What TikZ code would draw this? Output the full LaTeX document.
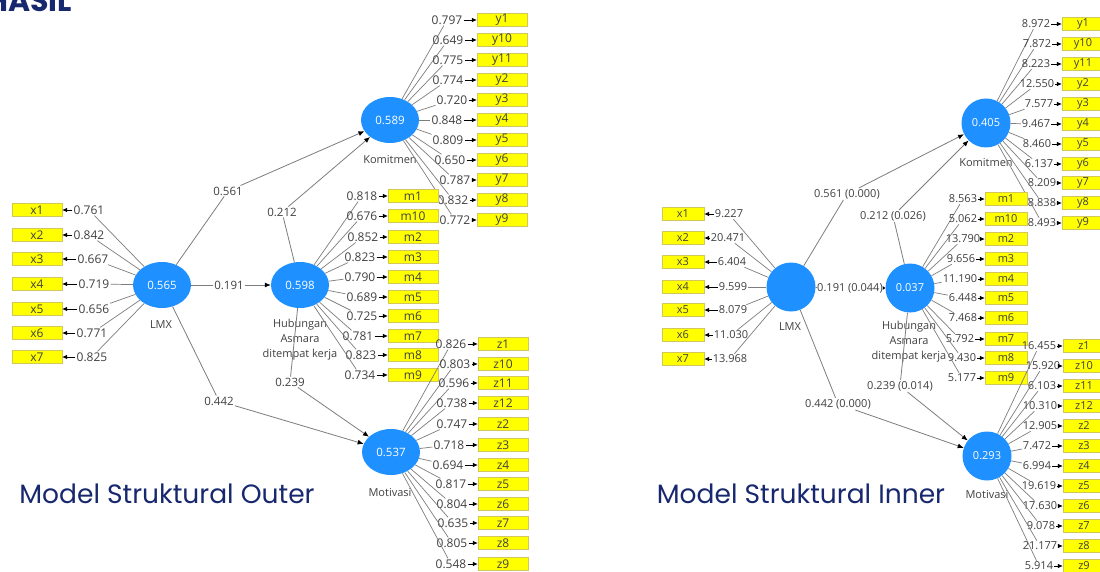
\documentclass[tikz,border=0pt]{standalone}
\usepackage{fontspec}
\setmainfont{Open Sans}
\newfontfamily\titlefont{Poppins}
\usetikzlibrary{arrows.meta,shapes.geometric}
\definecolor{lvblue}{RGB}{30,144,255}
\definecolor{indyellow}{RGB}{255,255,0}
\definecolor{indborder}{RGB}{210,200,90}
\definecolor{navy}{RGB}{24,40,110}
\definecolor{txtgray}{RGB}{64,64,64}
\definecolor{linegray}{RGB}{125,125,125}

\begin{document}
\begin{tikzpicture}
  [x=1pt,y=-1pt,
   lvo/.style={ellipse,fill=lvblue,minimum width=58pt,minimum height=46pt,inner sep=0pt,text=white,font=\fontsize{11.5}{13}\selectfont},
   lvi/.style={circle,fill=lvblue,minimum size=49pt,inner sep=0pt,text=white,font=\fontsize{11}{13}\selectfont},
   indbox/.style={draw=indborder,fill=indyellow,minimum height=13pt,inner sep=0pt,text=txtgray},
   indo/.style={indbox,minimum width=50pt,font=\fontsize{12}{13}\selectfont},
   indi/.style={indbox,minimum width=42pt,font=\fontsize{11}{13}\selectfont},
   lblo/.style={inner sep=1pt,text=txtgray,font=\fontsize{12}{13}\selectfont},
   lbli/.style={inner sep=1pt,text=txtgray,font=\fontsize{11}{13}\selectfont},
   lvname/.style={inner sep=0pt,text=txtgray,align=center,font=\fontsize{11}{15}\selectfont},
   load/.style={draw=linegray,line width=0.7pt},
   toind/.style={-{Latex[length=5pt,width=4.5pt]},line width=0.7pt,black},
   pth/.style={draw=linegray,line width=0.8pt,-{Latex[length=6pt,width=5pt,black]}},
   coef/.style={inner sep=1pt,text=txtgray}]
  \useasboundingbox (0,0) rectangle (1100,572);
  \clip (0,0) rectangle (1100,572);
  \fill[white] (0,0) rectangle (1100,572);

  \node[font=\titlefont\bfseries\fontsize{30}{34}\selectfont,text=navy,anchor=base east,inner sep=0pt] (hasil) at (72,12) {HASIL};
  \node[font=\titlefont\fontsize{26.5}{30}\selectfont,text=navy] (ttlo) at (167,494) {Model Struktural Outer};
  \node[font=\titlefont\fontsize{26.5}{30}\selectfont,text=navy] (ttli) at (801,494) {Model Struktural Inner};

  % outer model
  \node[lvo] (oLMX) at (162,285) {0.565};
  \node[lvo] (oHub) at (300,285) {0.598};
  \node[lvo] (oKom) at (390,120) {0.589};
  \node[lvo] (oMot) at (391,452) {0.537};
  \node[lvname] (onLMX) at (161,325) {LMX};
  \node[lvname] (onHub) at (300,340) {Hubungan\\Asmara\\ditempat kerja};
  \node[lvname] (onKom) at (390,160) {Komitmen};
  \node[lvname] (onMot) at (390,493) {Motivasi};

  \node[coef,font=\fontsize{11.5}{13}\selectfont] (oc561) at (228,191) {0.561};
  \node[coef,font=\fontsize{11.5}{13}\selectfont] (oc191) at (229,285) {0.191};
  \node[coef,font=\fontsize{11.5}{13}\selectfont] (oc442) at (219,401) {0.442};
  \node[coef,font=\fontsize{11.5}{13}\selectfont] (oc212) at (282,212) {0.212};
  \node[coef,font=\fontsize{11.5}{13}\selectfont] (oc239) at (290,382) {0.239};
  \draw[pth] (oLMX) -- (oc561) -- (oKom);
  \draw[pth] (oLMX) -- (oc191) -- (oHub);
  \draw[pth] (oLMX) -- (oc442) -- (oMot);
  \draw[pth] (oHub) -- (oc212) -- (oKom);
  \draw[pth] (oHub) -- (oc239) -- (oMot);

  \foreach \mv/\lx/\yy/\val in {x1/89/210/0.761, x2/89/235/0.842, x3/93/259/0.667, x4/94/284/0.719,
      x5/94/309/0.656, x6/92/333/0.771, x7/92/357/0.825} {
    \node[indo] (o\mv) at (37,\yy) {\mv};
    \node[lblo] (ol\mv) at (\lx,\yy) {\val};
    \draw[load] (oLMX) -- (ol\mv);
    \draw[toind] (ol\mv) -- (o\mv);
  }
  \foreach \mv/\lx/\yy/\val in {y1/447/20/0.797, y10/448/40/0.649, y11/448/60/0.775, y2/448/80/0.774,
      y3/452/100/0.720, y4/447/120/0.848, y5/448/140/0.809, y6/450/160/0.650, y7/455/180/0.787,
      y8/453/200/0.832, y9/455/220/0.772} {
    \node[indo] (o\mv) at (502,\yy) {\mv};
    \node[lblo] (ol\mv) at (\lx,\yy) {\val};
    \draw[load] (oKom) -- (ol\mv);
    \draw[toind] (ol\mv) -- (o\mv);
  }
  \foreach \mv/\lx/\yy/\val in {m1/362/196/0.818, m10/362/216/0.676, m2/363/237/0.852, m3/360/257/0.823,
      m4/360/277/0.790, m5/362/297/0.689, m6/362/316/0.725, m7/358/336/0.781, m8/361/355/0.823,
      m9/360/375/0.734} {
    \node[indo] (o\mv) at (413,\yy) {\mv};
    \node[lblo] (ol\mv) at (\lx,\yy) {\val};
    \draw[load] (oHub) -- (ol\mv);
    \draw[toind] (ol\mv) -- (o\mv);
  }
  \foreach \mv/\lx/\yy/\val in {z1/451/344/0.826, z10/455/364/0.803, z11/454/383/0.596, z12/452/403/0.738,
      z2/452/424/0.747, z3/449/445/0.718, z4/448/465/0.694, z5/451/484/0.817, z6/452/504/0.804,
      z7/453/523/0.635, z8/452/543/0.805, z9/451/564/0.548} {
    \node[indo] (o\mv) at (503,\yy) {\mv};
    \node[lblo] (ol\mv) at (\lx,\yy) {\val};
    \draw[load] (oMot) -- (ol\mv);
    \draw[toind] (ol\mv) -- (o\mv);
  }

  % inner model
  \node[lvi] (iLMX) at (791,287) {};
  \node[lvi] (iHub) at (910,288) {0.037};
  \node[lvi] (iKom) at (986,123) {0.405};
  \node[lvi] (iMot) at (987,456) {0.293};
  \node[lvname] (inLMX) at (790,327) {LMX};
  \node[lvname] (inHub) at (909,342) {Hubungan\\Asmara\\ditempat kerja};
  \node[lvname] (inKom) at (986,163) {Komitmen};
  \node[lvname] (inMot) at (987,495) {Motivasi};

  \node[coef,font=\fontsize{11}{13}\selectfont] (ic561) at (847,194) {0.561 (0.000)};
  \node[coef,inner sep=0pt,font=\fontsize{11}{13}\selectfont] (ic191) at (850,288) {0.191 (0.044)};
  \node[coef,font=\fontsize{11}{13}\selectfont] (ic442) at (838,404) {0.442 (0.000)};
  \node[coef,font=\fontsize{11}{13}\selectfont] (ic212) at (893,216) {0.212 (0.026)};
  \node[coef,font=\fontsize{11}{13}\selectfont] (ic239) at (900,386) {0.239 (0.014)};
  \draw[pth] (iLMX) -- (ic561) -- (iKom);
  \draw[pth,-{Latex[length=2.5pt,width=4pt,black]}] (iLMX) -- (ic191) -- (iHub);
  \draw[pth] (iLMX) -- (ic442) -- (iMot);
  \draw[pth] (iHub) -- (ic212) -- (iKom);
  \draw[pth] (iHub) -- (ic239) -- (iMot);

  \foreach \mv/\lx/\yy/\val in {x1/729/214/9.227, x2/728/238/20.471, x3/732/262/6.404, x4/733/287/9.599,
      x5/733/310/8.079, x6/731/335/11.030, x7/730/359/13.968} {
    \node[indi] (i\mv) at (683,\yy) {\mv};
    \node[lbli] (il\mv) at (\lx,\yy) {\val};
    \draw[load] (iLMX) -- (il\mv);
    \draw[toind] (il\mv) -- (i\mv);
  }
  \foreach \mv/\lx/\yy/\val in {y1/1036/24/8.972, y10/1037/44/7.872, y11/1036/64/8.223, y2/1037/84/12.550,
      y3/1039/104/7.577, y4/1036/124/9.467, y5/1037/144/8.460, y6/1039/164/6.137, y7/1042/183/8.209,
      y8/1042/203/8.838, y9/1042/223/8.493} {
    \node[indi] (i\mv) at (1083,\yy) {\mv};
    \node[lbli] (il\mv) at (\lx,\yy) {\val};
    \draw[load] (iKom) -- (il\mv);
    \draw[toind] (il\mv) -- (i\mv);
  }
  \foreach \mv/\lx/\yy/\val in {m1/963/199/8.563, m10/963/219/5.062, m2/963/239/13.790, m3/961/259/9.656,
      m4/960/279/11.190, m5/963/298/6.448, m6/963/318/7.468, m7/960/339/5.792, m8/962/358/9.430,
      m9/962/378/5.177} {
    \node[indi] (i\mv) at (1006,\yy) {\mv};
    \node[lbli] (il\mv) at (\lx,\yy) {\val};
    \draw[load] (iHub) -- (il\mv);
    \draw[toind] (il\mv) -- (i\mv);
  }
  \foreach \mv/\lx/\yy/\val in {z1/1039/346/16.455, z10/1043/366/15.920, z11/1042/386/6.103, z12/1040/406/10.310,
      z2/1040/426/12.905, z3/1037/446/7.472, z4/1037/466/6.994, z5/1039/486/19.619, z6/1040/506/17.630,
      z7/1041/526/9.078, z8/1040/546/21.177, z9/1039/566/5.914} {
    \node[indi] (i\mv) at (1084,\yy) {\mv};
    \node[lbli] (il\mv) at (\lx,\yy) {\val};
    \draw[load] (iMot) -- (il\mv);
    \draw[toind] (il\mv) -- (i\mv);
  }
\end{tikzpicture}
\end{document}
